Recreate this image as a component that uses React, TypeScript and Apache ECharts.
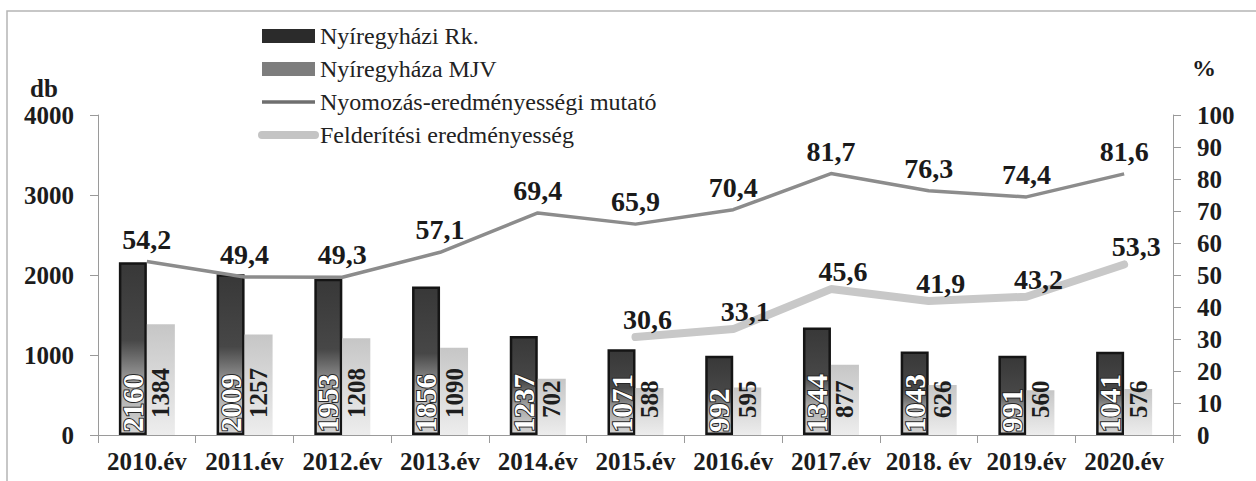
import React, { useEffect, useRef } from "react";
import * as echarts from "echarts";

const categories = ["2010.év", "2011.év", "2012.év", "2013.év", "2014.év", "2015.év", "2016.év", "2017.év", "2018. év", "2019.év", "2020.év"];
const rkValues = [2160, 2009, 1953, 1856, 1237, 1071, 992, 1344, 1043, 991, 1041];
const mjvValues = [1384, 1257, 1208, 1090, 702, 588, 595, 877, 626, 560, 576];
const nyomozasValues = [54.2, 49.4, 49.3, 57.1, 69.4, 65.9, 70.4, 81.7, 76.3, 74.4, 81.6];
const felderitesValues = [null, null, null, null, null, 30.6, 33.1, 45.6, 41.9, 43.2, 53.3];
const leftTicks = { min: 0, max: 4000, interval: 1000 };
const rightTicks = { min: 0, max: 100, interval: 10 };

const SERIF = "Liberation Serif";
const comma = (p: any) => (p.value == null ? "" : String(p.value).replace(".", ","));

export default function App() {
  const ref = useRef<HTMLDivElement>(null);
  useEffect(() => {
    if (!ref.current) return;
    const chart = echarts.init(ref.current, undefined, { renderer: "svg" });
    const axisLabelStyle = {
      fontFamily: SERIF,
      fontWeight: "bold" as const,
      fontSize: 25,
      color: "#1c1c1c",
      formatter: (v: any) => String(v),
    };
    chart.setOption({
      animation: false,
      backgroundColor: "#ffffff",
      textStyle: { fontFamily: SERIF },
      grid: { left: 98, right: 83, top: 115, bottom: 46, containLabel: false },
      legend: {
        orient: "vertical",
        left: 258,
        top: 24,
        itemWidth: 53,
        itemHeight: 14,
        itemGap: 9,
        padding: 0,
        textStyle: { fontFamily: SERIF, fontSize: 24, color: "#222" },
        data: [
          { name: "Nyíregyházi Rk.", icon: "rect", itemStyle: { color: "#2b2b2b", borderWidth: 0 } },
          { name: "Nyíregyháza MJV", icon: "rect", itemStyle: { color: "#7d7d7d", borderWidth: 0 } },
          {
            name: "Nyomozás-eredményességi mutató",
            lineStyle: { width: 3.5, color: "#6f6f6f" },
            itemStyle: { color: "transparent", borderWidth: 0 },
          },
          {
            name: "Felderítési eredményesség",
            lineStyle: { width: 8, color: "#c4c4c4", cap: "round" },
            itemStyle: { color: "transparent", borderWidth: 0 },
          },
        ],
      },
      graphic: [
        { type: "rect", shape: { x: 7, y: 11, width: 1400, height: 600 }, style: { fill: "none", stroke: "#b5b5b5", lineWidth: 1.5 }, silent: true },
        { type: "text", left: 30, top: 76, style: { text: "db", fontFamily: SERIF, fontWeight: "bold", fontSize: 25, fill: "#1c1c1c" } },
        { type: "text", left: 1192, top: 56, style: { text: "%", fontFamily: SERIF, fontWeight: "bold", fontSize: 24, fill: "#1c1c1c" } },
      ],
      xAxis: {
        type: "category",
        data: categories,
        axisLine: { lineStyle: { color: "#9a9a9a", width: 1 } },
        axisTick: { show: true, length: 8, lineStyle: { color: "#9a9a9a" } },
        axisLabel: { ...axisLabelStyle, fontSize: 25, interval: 0, margin: 14 },
      },
      yAxis: [
        {
          type: "value",
          ...leftTicks,
          axisLine: { show: true, lineStyle: { color: "#9a9a9a" } },
          axisTick: { show: true, length: 8, lineStyle: { color: "#9a9a9a" } },
          splitLine: { show: false },
          axisLabel: { ...axisLabelStyle, margin: 24 },
        },
        {
          type: "value",
          position: "right",
          ...rightTicks,
          axisLine: { show: true, lineStyle: { color: "#9a9a9a" } },
          axisTick: { show: true, length: 8, lineStyle: { color: "#9a9a9a" } },
          splitLine: { show: false },
          axisLabel: { ...axisLabelStyle, margin: 24 },
        },
      ],
      series: [
        {
          name: "Nyíregyházi Rk.",
          type: "bar",
          data: rkValues,
          barWidth: 28,
          barGap: "0%",
          itemStyle: {
            color: new echarts.graphic.LinearGradient(0, 0, 0, 1, [
              { offset: 0, color: "#383838" },
              { offset: 0.45, color: "#474747" },
              { offset: 0.72, color: "#a8a8a8" },
              { offset: 1, color: "#d6d6d6" },
            ]),
            borderColor: "#151515",
            borderWidth: 2.5,
          },
          label: {
            show: true,
            position: "insideBottom",
            rotate: 90,
            align: "left",
            verticalAlign: "middle",
            distance: 3,
            fontFamily: SERIF,
            fontWeight: "bold",
            fontSize: 29,
            color: "#ffffff",
            textBorderColor: "#262626",
            textBorderWidth: 2,
          },
        },
        {
          name: "Nyíregyháza MJV",
          type: "bar",
          data: mjvValues,
          barWidth: 28,
          itemStyle: {
            color: new echarts.graphic.LinearGradient(0, 0, 0, 1, [
              { offset: 0, color: "#c6c6c6" },
              { offset: 1, color: "#ededed" },
            ]),
          },
          label: {
            show: true,
            position: "insideBottom",
            rotate: 90,
            align: "left",
            verticalAlign: "middle",
            distance: 17,
            fontFamily: SERIF,
            fontWeight: "bold",
            fontSize: 25,
            color: "#1e1e1e",
          },
        },
        {
          name: "Nyomozás-eredményességi mutató",
          type: "line",
          yAxisIndex: 1,
          data: nyomozasValues,
          symbol: "circle",
          symbolSize: 1,
          showSymbol: true,
          lineStyle: { color: "#8c8c8c", width: 3.5 },
          itemStyle: { color: "transparent", borderWidth: 0 },
          label: {
            show: true,
            position: "top",
            distance: 8,
            formatter: comma,
            fontFamily: SERIF,
            fontWeight: "bold",
            fontSize: 28,
            color: "#1a1a1a",
          },
        },
        {
          name: "Felderítési eredményesség",
          type: "line",
          yAxisIndex: 1,
          data: felderitesValues,
          symbol: "circle",
          symbolSize: 1,
          showSymbol: true,
          connectNulls: false,
          lineStyle: { color: "#c8c8c8", width: 8, cap: "round" },
          itemStyle: { color: "transparent", borderWidth: 0 },
          label: {
            show: true,
            position: "top",
            distance: 3,
            offset: [12, 0],
            formatter: comma,
            fontFamily: SERIF,
            fontWeight: "bold",
            fontSize: 28,
            color: "#1a1a1a",
          },
        },
      ],
    });
    return () => chart.dispose();
  }, []);
  return <div ref={ref} style={{ position: "absolute", left: 0, top: 0, width: 1256, height: 481 }} />;
}
